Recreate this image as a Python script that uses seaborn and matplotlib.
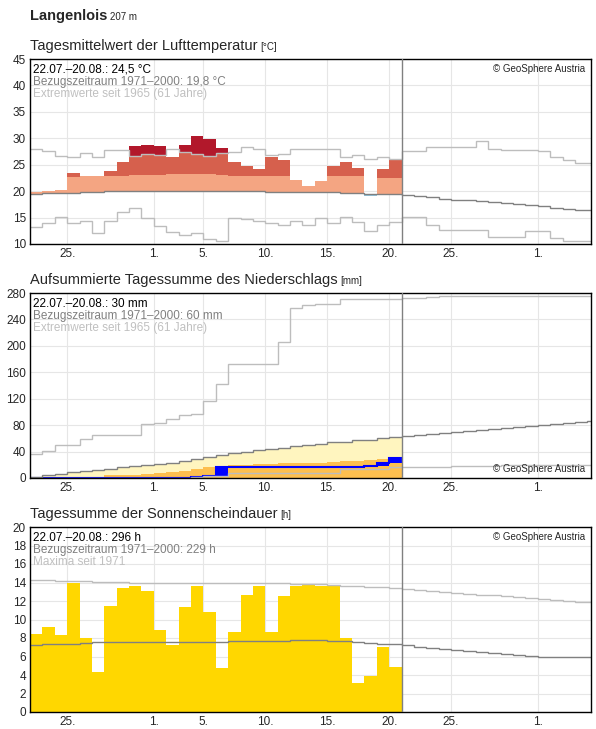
import numpy as np
import matplotlib.pyplot as plt
import seaborn as sns

sns.set_style("white")
plt.rcParams['font.family'] = ['Liberation Sans', 'DejaVu Sans']

# Tage ab 22.07. (Index 0) bis 05.09.
tick_pos = [3, 10, 14, 19, 24, 29, 34, 41]
tick_lab = ['25.', '1.', '5.', '10.', '15.', '20.', '25.', '1.']

# --- Temperatur ---
temp = [19.8, 20.1, 20.3, 23.5, 22.9, 22.9, 23.9, 25.6, 28.5, 28.8, 28.6, 26.4, 28.8, 30.4, 29.9,
        28.2, 25.5, 24.8, 24.1, 26.4, 25.8, 22.2, 21.0, 22.0, 24.7, 25.6, 24.3, 19.0, 24.1, 26.1]
temp_upper = [22.7, 22.7, 22.7, 22.7, 22.9, 22.9, 22.9, 22.9, 23.1, 23.1, 23.1, 23.3, 23.3, 23.3, 23.3,
              23.1, 22.9, 22.9, 22.9, 22.9, 22.9, 22.9, 22.9, 22.9, 22.9, 22.9, 22.9, 22.6, 22.4, 22.4]
temp_mean = [19.5, 19.6, 19.6, 19.7, 19.8, 19.9, 20.0, 20.0, 20.0, 20.1, 20.1, 20.1, 20.1, 20.1, 20.0,
             20.0, 20.0, 20.0, 20.0, 19.9, 19.9, 19.9, 19.8, 19.8, 19.8, 19.7, 19.6, 19.5, 19.4, 19.4,
             19.2, 19.0, 18.8, 18.6, 18.4, 18.3, 18.1, 17.9, 17.7, 17.5, 17.3, 17.1, 16.9, 16.7, 16.5, 16.4]
temp_max = [28.0, 27.6, 26.6, 26.5, 27.2, 26.5, 27.7, 27.7, 26.6, 27.0, 26.8, 28.0, 27.4, 27.0, 26.7,
            27.2, 27.4, 28.4, 28.0, 26.9, 27.0, 27.9, 28.0, 28.0, 27.9, 26.5, 26.8, 26.0, 26.5, 26.0,
            27.5, 27.5, 28.3, 28.3, 28.3, 28.3, 29.5, 28.0, 27.7, 27.7, 27.7, 27.5, 26.5, 25.8, 25.3, 25.3]
temp_min = [13.2, 14.0, 15.1, 14.0, 14.4, 12.1, 14.4, 16.1, 16.8, 15.0, 13.4, 12.2, 11.7, 12.1, 11.0,
            10.5, 15.0, 14.7, 14.4, 14.0, 13.6, 14.4, 13.6, 15.0, 14.0, 15.1, 14.2, 12.5, 13.6, 14.1,
            15.1, 15.1, 13.5, 12.7, 12.7, 12.7, 12.7, 11.4, 11.4, 11.4, 12.4, 12.4, 11.2, 10.6, 10.6, 10.6]

# --- Niederschlag (kumuliert) ---
rain_cum = [0, 0, 0, 0, 0.5, 0.5, 0.5, 0.5, 0.5, 0.5, 0.5, 0.5, 0.5, 1.5, 3.0,
            16, 16, 16, 16, 16, 16, 16, 16, 16, 16, 16, 16, 18, 23, 30]
rain_p50 = [1, 1, 1, 2, 2, 2, 4, 4, 4, 6, 7, 9, 11, 13, 16,
            18, 20, 20, 21, 21, 22, 23, 23, 23, 24, 25, 26, 27, 29, 31]
rain_mean = [2, 4, 6, 9, 10, 12, 14, 16, 18, 19, 21, 23, 26, 29, 32,
             35, 38, 40, 42, 44, 46, 48, 50, 52, 54, 55, 57, 58, 60, 62,
             63, 65, 67, 68, 70, 71, 73, 74, 76, 77, 79, 80, 82, 83, 85, 86]
rain_max = [37, 41, 50, 50, 59, 65, 65, 65, 65, 82, 84, 90, 96, 97, 117,
            142, 173, 173, 173, 173, 206, 258, 262, 264, 264, 271, 271, 271, 271, 271,
            272, 272, 274, 275, 275, 275, 275, 275, 275, 276, 276, 276, 276, 276, 276, 276]
rain_min = [0, 0, 0, 0, 0, 0, 0, 0, 0, 0, 0, 0, 0, 2, 3,
            3, 8, 8, 8, 8, 8, 8, 8, 8, 8, 13, 13, 13, 13, 17,
            17, 17, 17, 17, 18, 18, 18, 18, 19, 19, 19, 19, 20, 20, 20, 20]

# --- Sonnenschein ---
sun = [8.4, 9.2, 8.3, 14.0, 8.0, 4.3, 11.5, 13.4, 13.6, 13.1, 8.9, 7.2, 11.4, 13.6, 10.8,
       4.8, 8.7, 12.6, 13.6, 8.7, 12.5, 13.6, 13.7, 13.65, 13.65, 8.0, 3.1, 3.9, 7.0, 4.9]
sun_mean = [7.2, 7.3, 7.4, 7.4, 7.5, 7.6, 7.6, 7.6, 7.6, 7.6, 7.6, 7.6, 7.6, 7.6, 7.6,
            7.6, 7.7, 7.7, 7.7, 7.7, 7.7, 7.8, 7.8, 7.8, 7.7, 7.7, 7.6, 7.5, 7.4, 7.3,
            7.2, 7.0, 6.9, 6.8, 6.7, 6.6, 6.5, 6.4, 6.3, 6.2, 6.1, 6.0, 5.95, 5.9, 5.9, 5.9]
sun_max = [14.3, 14.3, 14.2, 14.2, 14.2, 14.1, 14.1, 14.1, 14.0, 14.0, 14.0, 14.0, 14.0, 14.0, 14.0,
           14.0, 14.0, 13.9, 13.9, 13.9, 13.9, 13.8, 13.8, 13.8, 13.7, 13.6, 13.6, 13.5, 13.5, 13.4,
           13.3, 13.2, 13.1, 13.0, 12.9, 12.8, 12.7, 12.6, 12.5, 12.4, 12.3, 12.2, 12.1, 12.0, 11.9, 11.9]

XMAX = 45.3
W, H = 596, 729
fig = plt.figure(figsize=(W / 100, H / 100), dpi=100)


def make_ax(top_px, ylim, yticks):
    ax = fig.add_axes([30 / W, 1 - (top_px + 185) / H, 561 / W, 185 / H])
    ax.set_xlim(0, XMAX)
    ax.set_ylim(*ylim)
    ax.set_xticks(tick_pos)
    ax.set_xticklabels(tick_lab)
    ax.set_yticks(yticks)
    ax.grid(True, color='#e6e6e6', lw=0.8)
    ax.set_axisbelow(True)
    ax.tick_params(labelsize=8.5, length=0, pad=3)
    for s in ax.spines.values():
        s.set_color('black')
        s.set_linewidth(1)
    ax.axvline(30, color='#808080', lw=1, zorder=5)
    return ax


def stair(ax, vals, **kw):
    x = np.arange(len(vals) + 1)
    ax.stairs(vals, x, baseline=None, **kw)


def info(ax, lines, y0=0.975):
    cols = ['black', '#808080', '#c0c0c0']
    for i, (t, c) in enumerate(zip(lines, cols)):
        ax.text(0.006, y0 - i * 0.065, t, transform=ax.transAxes, fontsize=8.5, color=c,
                va='top', ha='left', zorder=6)


def heading(y_px, big, small, bold=False, size=10.5):
    t = fig.text(30 / W, 1 - y_px / H, big, fontsize=size, fontweight='bold' if bold else 'normal',
                 va='baseline', ha='left')
    fig.canvas.draw()
    bb = t.get_window_extent()
    fig.text((bb.x1 + 3) / W, 1 - y_px / H, small, fontsize=7, va='baseline', ha='left')


# Titel
heading(20, 'Langenlois', '207 m', bold=True, size=10.5)

# Panel 1: Temperatur
ax1 = make_ax(59, (10, 45), range(10, 46, 5))
days = np.arange(len(temp))
for d in days:
    v, m, u, mx = temp[d], temp_mean[d], temp_upper[d], temp_max[d]
    if v < m:
        ax1.bar(d, m - v, bottom=v, width=1, align='edge', color='#92c5de', lw=0)
        continue
    ax1.bar(d, min(v, u) - m, bottom=m, width=1, align='edge', color='#f4a582', lw=0)
    if v > u:
        ax1.bar(d, min(v, mx) - u, bottom=u, width=1, align='edge', color='#d6604d', lw=0)
    if v > mx:
        ax1.bar(d, v - mx, bottom=mx, width=1, align='edge', color='#b2182b', lw=0)
stair(ax1, temp_max, color='#bdbdbd', lw=1)
stair(ax1, temp_min, color='#bdbdbd', lw=1)
stair(ax1, temp_mean, color='#808080', lw=1)
heading(50, 'Tagesmittelwert der Lufttemperatur', '[°C]')
info(ax1, ['22.07.–20.08.: 24,5 °C', 'Bezugszeitraum 1971–2000: 19,8 °C', 'Extremwerte seit 1965 (61 Jahre)'])
ax1.text(0.99, 0.975, '© GeoSphere Austria', transform=ax1.transAxes, fontsize=7, ha='right', va='top')

# Panel 2: Niederschlag
ax2 = make_ax(293, (0, 280), range(0, 281, 40))
n = len(rain_cum)
ax2.bar(np.arange(n), np.array(rain_mean[:n]), width=1, align='edge', color='#fff5bf', lw=0)
ax2.bar(np.arange(n), rain_p50, width=1, align='edge', color='#fdbf4f', lw=0)
prev = np.concatenate([[0], rain_cum[:-1]])
inc = np.array(rain_cum) - prev
ax2.bar(np.arange(n), np.maximum(inc, 0), bottom=prev, width=1, align='edge', color='#0000ff', lw=0)
stair(ax2, rain_cum, color='#0000ff', lw=1.5)
stair(ax2, rain_max, color='#bdbdbd', lw=1)
stair(ax2, rain_min, color='#bdbdbd', lw=1)
stair(ax2, rain_mean, color='#808080', lw=1)
heading(284, 'Aufsummierte Tagessumme des Niederschlags', '[mm]')
info(ax2, ['22.07.–20.08.: 30 mm', 'Bezugszeitraum 1971–2000: 60 mm', 'Extremwerte seit 1965 (61 Jahre)'])
ax2.text(0.99, 0.02, '© GeoSphere Austria', transform=ax2.transAxes, fontsize=7, ha='right', va='bottom')

# Panel 3: Sonnenschein
ax3 = make_ax(527, (0, 20), range(0, 21, 2))
ax3.bar(np.arange(len(sun)), sun, width=1, align='edge', color='#ffd700', lw=0)
stair(ax3, sun_max, color='#bdbdbd', lw=1)
stair(ax3, sun_mean, color='#808080', lw=1)
heading(518, 'Tagessumme der Sonnenscheindauer', '[h]')
info(ax3, ['22.07.–20.08.: 296 h', 'Bezugszeitraum 1971–2000: 229 h', 'Maxima seit 1971'])
ax3.text(0.99, 0.975, '© GeoSphere Austria', transform=ax3.transAxes, fontsize=7, ha='right', va='top')

fig.savefig('out.png', dpi=100)
